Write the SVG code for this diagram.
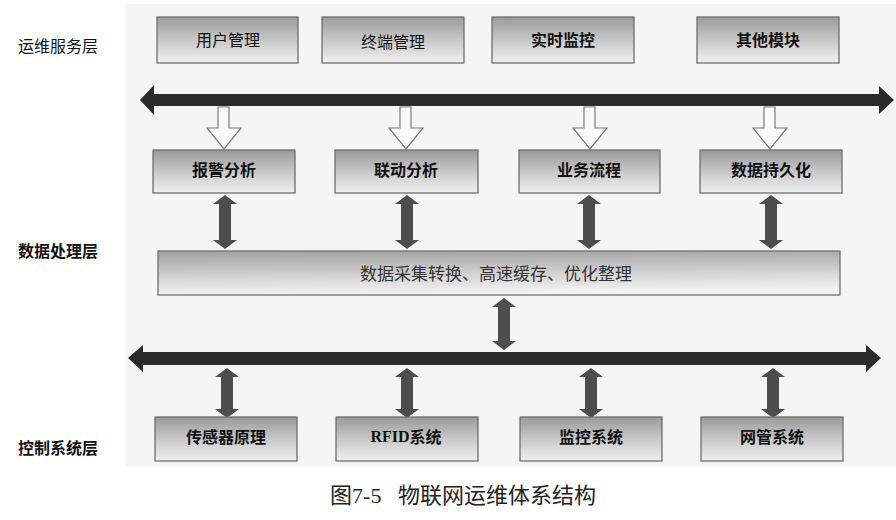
<svg xmlns="http://www.w3.org/2000/svg" width="896" height="520" viewBox="0 0 896 520">
<defs>
<linearGradient id="g" x1="0" y1="0" x2="0" y2="1">
<stop offset="0" stop-color="#9a9a9a"/>
<stop offset="0.55" stop-color="#cccccc"/>
<stop offset="1" stop-color="#f0f0f0"/>
</linearGradient>
<linearGradient id="g2" x1="0" y1="0" x2="0.15" y2="1">
<stop offset="0" stop-color="#a0a0a0"/>
<stop offset="0.6" stop-color="#d4d4d4"/>
<stop offset="1" stop-color="#f2f2f2"/>
</linearGradient>
</defs>
<style>
.box{fill:url(#g);stroke:#6e6e6e;stroke-width:1.3}
.big{fill:url(#g2);stroke:#6e6e6e;stroke-width:1.3}
.t{font-family:"Noto Sans CJK SC","Liberation Sans",sans-serif;font-size:16px;fill:#111;text-anchor:middle;dominant-baseline:central}
.b{font-weight:bold}
.lay{font-family:"Noto Sans CJK SC",sans-serif;font-size:16px;fill:#111;dominant-baseline:central}
.ser{font-family:"Liberation Serif","Noto Sans CJK SC",serif}
.bus{fill:#2b2b2b}
.dbl{fill:#4d4d4d}
.hol{fill:#fafafa;stroke:#7a7a7a;stroke-width:1.2}
</style>
<rect x="0" y="0" width="896" height="520" fill="#ffffff"/>
<rect x="125" y="4" width="771" height="463" fill="#f5f5f5"/>

<g id="layers">
<text class="lay" x="18" y="45">运维服务层</text>
<text class="lay b" x="18" y="250">数据处理层</text>
<text class="lay b" x="18" y="447">控制系统层</text>
</g>

<g id="connectors">
<polygon class="bus" points="140,100 154,85 154,94 879,94 879,86 894,100 879,114 879,106 154,106 154,115"/>
<polygon class="hol" points="218,107 229,107 229,128 241,128 224,149 207,128 218,128"/>
<polygon class="hol" points="400,107 411,107 411,128 423,128 406,149 389,128 400,128"/>
<polygon class="hol" points="584,107 595,107 595,128 607,128 590,149 573,128 584,128"/>
<polygon class="hol" points="764,107 775,107 775,128 787,128 770,149 753,128 764,128"/>
<polygon class="dbl" points="225,195 237,204 231,204 231,240 237,240 225,249 213,240 219,240 219,204 213,204"/>
<polygon class="dbl" points="407,195 419,204 413,204 413,240 419,240 407,249 395,240 401,240 401,204 395,204"/>
<polygon class="dbl" points="589,195 601,204 595,204 595,240 601,240 589,249 577,240 583,240 583,204 577,204"/>
<polygon class="dbl" points="771,195 783,204 777,204 777,240 783,240 771,249 759,240 765,240 765,204 759,204"/>
<polygon class="dbl" points="504,298 516,307 510,307 510,341 516,341 504,350 492,341 498,341 498,307 492,307"/>
<polygon class="bus" points="128,358 143,345 143,352 866,352 866,345 881,358 866,372 866,365 143,365 143,372"/>
<polygon class="dbl" points="227,368 239,377 233,377 233,409 239,409 227,418 215,409 221,409 221,377 215,377"/>
<polygon class="dbl" points="407,368 419,377 413,377 413,409 419,409 407,418 395,409 401,409 401,377 395,377"/>
<polygon class="dbl" points="591,368 603,377 597,377 597,409 603,409 591,418 579,409 585,409 585,377 579,377"/>
<polygon class="dbl" points="773,368 785,377 779,377 779,409 785,409 773,418 761,409 767,409 767,377 761,377"/>
</g>

<g id="n-user"><rect class="box" x="157" y="17" width="141" height="46"/><text class="t" x="228" y="39">用户管理</text></g>
<g id="n-term"><rect class="box" x="322" y="17" width="142" height="46"/><text class="t" x="393" y="41">终端管理</text></g>
<g id="n-rt"><rect class="box" x="492" y="17" width="142" height="46"/><text class="t b" x="563" y="39">实时监控</text></g>
<g id="n-other"><rect class="box" x="697" y="17" width="142" height="46"/><text class="t b" x="768" y="39">其他模块</text></g>

<g id="n-alarm"><rect class="box" x="153" y="150" width="142" height="43"/><text class="t b" x="224" y="169">报警分析</text></g>
<g id="n-link"><rect class="box" x="335" y="150" width="143" height="43"/><text class="t b" x="406" y="169">联动分析</text></g>
<g id="n-flow"><rect class="box" x="519" y="150" width="141" height="43"/><text class="t b" x="589" y="169">业务流程</text></g>
<g id="n-persist"><rect class="box" x="700" y="150" width="142" height="43"/><text class="t b" x="771" y="169">数据持久化</text></g>

<g id="n-data"><rect class="big" x="158" y="251" width="682" height="44"/><text class="t" x="496" y="272" style="font-size:17px;fill:#333">数据采集转换、高速缓存、优化整理</text></g>

<g id="n-sensor"><rect class="box" x="155" y="417" width="142" height="44"/><text class="t b" x="226" y="436">传感器原理</text></g>
<g id="n-rfid"><rect class="box" x="336" y="417" width="142" height="44"/><text class="t b" x="406" y="436"><tspan class="ser">RFID</tspan>系统</text></g>
<g id="n-mon"><rect class="box" x="520" y="417" width="142" height="44"/><text class="t b" x="591" y="436">监控系统</text></g>
<g id="n-nm"><rect class="box" x="701" y="417" width="142" height="44"/><text class="t b" x="772" y="436">网管系统</text></g>

<g id="caption"><text class="t ser" x="463" y="495" style="font-size:22px;fill:#222">图7-5&#160;&#160;&#160;物联网运维体系结构</text></g>
</svg>
